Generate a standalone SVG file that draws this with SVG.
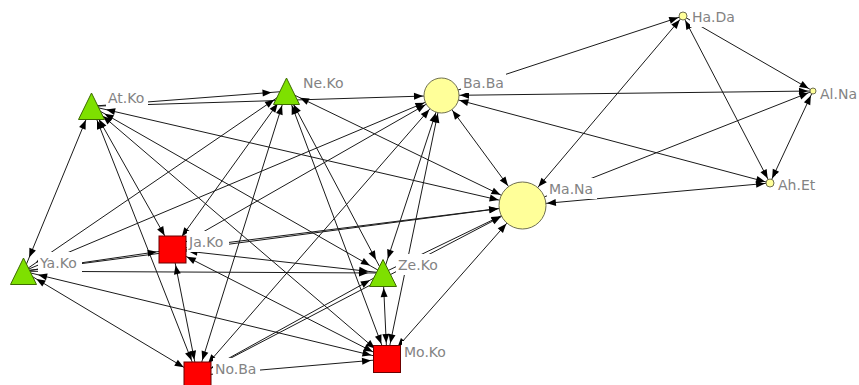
<svg xmlns="http://www.w3.org/2000/svg" width="859" height="385" viewBox="0 0 859 385">
<style>
.e line{stroke:#1a1a1a;stroke-width:1;fill:none}
.lb{fill:#fff}
.tx{font-family:"DejaVu Sans",sans-serif;font-size:14px;fill:#838383}
.tri{fill:#7ee000;stroke:#3d6b00;stroke-width:1}
.sq{fill:#ff0000;stroke:#6b0000;stroke-width:1}
.ci{fill:#ffff99;stroke:#6f6f50;stroke-width:1}
</style>
<defs>
<marker id="T" markerUnits="userSpaceOnUse" markerWidth="10" markerHeight="10" refX="15" refY="0" orient="auto-start-reverse" overflow="visible"><path d="M0,0 L-9,-3.5 L-9,3.5 z" fill="#000"/></marker>
<marker id="Q" markerUnits="userSpaceOnUse" markerWidth="10" markerHeight="10" refX="16" refY="0" orient="auto-start-reverse" overflow="visible"><path d="M0,0 L-9,-3.5 L-9,3.5 z" fill="#000"/></marker>
<marker id="B" markerUnits="userSpaceOnUse" markerWidth="10" markerHeight="10" refX="18.5" refY="0" orient="auto-start-reverse" overflow="visible"><path d="M0,0 L-9,-3.5 L-9,3.5 z" fill="#000"/></marker>
<marker id="M" markerUnits="userSpaceOnUse" markerWidth="10" markerHeight="10" refX="24.5" refY="0" orient="auto-start-reverse" overflow="visible"><path d="M0,0 L-9,-3.5 L-9,3.5 z" fill="#000"/></marker>
<marker id="S" markerUnits="userSpaceOnUse" markerWidth="10" markerHeight="10" refX="5" refY="0" orient="auto-start-reverse" overflow="visible"><path d="M0,0 L-9,-3.5 L-9,3.5 z" fill="#000"/></marker>
</defs>
<rect width="859" height="385" fill="#fff"/>
<g id="connectors" class="e">
<line x1="91.5" y1="106.25" x2="23.5" y2="271.25" marker-start="url(#T)" marker-end="url(#T)"/>
<line x1="91.5" y1="106.25" x2="286.5" y2="91.25" marker-end="url(#T)"/>
<line x1="91.5" y1="106.25" x2="441.5" y2="95.5" marker-end="url(#B)"/>
<line x1="91.5" y1="106.25" x2="522.5" y2="205.5" marker-start="url(#T)" marker-end="url(#M)"/>
<line x1="91.5" y1="106.25" x2="172.5" y2="249.5" marker-start="url(#T)" marker-end="url(#Q)"/>
<line x1="91.5" y1="106.25" x2="197.5" y2="375.5" marker-start="url(#T)" marker-end="url(#Q)"/>
<line x1="91.5" y1="106.25" x2="383" y2="273" marker-start="url(#T)" marker-end="url(#T)"/>
<line x1="91.5" y1="106.25" x2="387" y2="359" marker-start="url(#T)" marker-end="url(#Q)"/>
<line x1="286.5" y1="91.25" x2="23.5" y2="271.25" marker-start="url(#T)" marker-end="url(#T)"/>
<line x1="286.5" y1="91.25" x2="172.5" y2="249.5" marker-start="url(#T)" marker-end="url(#Q)"/>
<line x1="286.5" y1="91.25" x2="197.5" y2="375.5" marker-start="url(#T)" marker-end="url(#Q)"/>
<line x1="286.5" y1="91.25" x2="383" y2="273" marker-start="url(#T)" marker-end="url(#T)"/>
<line x1="286.5" y1="91.25" x2="387" y2="359" marker-start="url(#T)" marker-end="url(#Q)"/>
<line x1="286.5" y1="91.25" x2="522.5" y2="205.5" marker-start="url(#T)" marker-end="url(#M)"/>
<line x1="441.5" y1="95.5" x2="23.5" y2="271.25" marker-start="url(#B)" marker-end="url(#T)"/>
<line x1="172.5" y1="249.5" x2="441.5" y2="95.5" marker-end="url(#B)"/>
<line x1="441.5" y1="95.5" x2="197.5" y2="375.5" marker-start="url(#B)" marker-end="url(#Q)"/>
<line x1="441.5" y1="95.5" x2="383" y2="273" marker-start="url(#B)" marker-end="url(#T)"/>
<line x1="441.5" y1="95.5" x2="387" y2="359" marker-start="url(#B)" marker-end="url(#Q)"/>
<line x1="441.5" y1="95.5" x2="522.5" y2="205.5" marker-start="url(#B)" marker-end="url(#M)"/>
<line x1="441.5" y1="95.5" x2="683" y2="16" marker-end="url(#S)"/>
<line x1="441.5" y1="95.5" x2="813" y2="91" marker-start="url(#B)" marker-end="url(#S)"/>
<line x1="441.5" y1="95.5" x2="770" y2="183" marker-start="url(#B)" marker-end="url(#S)"/>
<line x1="23.5" y1="271.25" x2="522.5" y2="205.5" marker-start="url(#T)" marker-end="url(#M)"/>
<line x1="172.5" y1="249.5" x2="522.5" y2="205.5" marker-start="url(#Q)" marker-end="url(#M)"/>
<line x1="197.5" y1="375.5" x2="522.5" y2="205.5" marker-end="url(#M)"/>
<line x1="383" y1="273" x2="522.5" y2="205.5" marker-start="url(#T)" marker-end="url(#M)"/>
<line x1="387" y1="359" x2="522.5" y2="205.5" marker-start="url(#Q)" marker-end="url(#M)"/>
<line x1="522.5" y1="205.5" x2="683" y2="16" marker-start="url(#M)" marker-end="url(#S)"/>
<line x1="522.5" y1="205.5" x2="813" y2="91" marker-end="url(#S)"/>
<line x1="770" y1="183" x2="522.5" y2="205.5" marker-start="url(#S)" marker-end="url(#M)"/>
<line x1="23.5" y1="271.25" x2="172.5" y2="249.5" marker-start="url(#T)" marker-end="url(#Q)"/>
<line x1="23.5" y1="271.25" x2="197.5" y2="375.5" marker-start="url(#T)" marker-end="url(#Q)"/>
<line x1="23.5" y1="271.25" x2="383" y2="273" marker-end="url(#T)"/>
<line x1="23.5" y1="271.25" x2="387" y2="359" marker-start="url(#T)" marker-end="url(#Q)"/>
<line x1="172.5" y1="249.5" x2="197.5" y2="375.5" marker-start="url(#Q)" marker-end="url(#Q)"/>
<line x1="172.5" y1="249.5" x2="383" y2="273" marker-start="url(#Q)" marker-end="url(#T)"/>
<line x1="172.5" y1="249.5" x2="387" y2="359" marker-start="url(#Q)" marker-end="url(#Q)"/>
<line x1="197.5" y1="375.5" x2="383" y2="273" marker-start="url(#Q)" marker-end="url(#T)"/>
<line x1="197.5" y1="375.5" x2="387" y2="359" marker-end="url(#Q)"/>
<line x1="383" y1="273" x2="387" y2="359" marker-start="url(#T)" marker-end="url(#Q)"/>
<line x1="683" y1="16" x2="813" y2="91" marker-end="url(#S)"/>
<line x1="683" y1="16" x2="770" y2="183" marker-start="url(#S)" marker-end="url(#S)"/>
<line x1="813" y1="91" x2="770" y2="183" marker-start="url(#S)" marker-end="url(#S)"/>
</g>
<g id="node-AtKo"><polygon class="tri" points="91.5,93 78.5,119.5 104.5,119.5"/><rect class="lb" x="106" y="87" width="42" height="21"/><text class="tx" x="108" y="103">At.Ko</text></g>
<g id="node-NeKo"><polygon class="tri" points="286.5,78 273.5,104.5 299.5,104.5"/><rect class="lb" x="301" y="72" width="46" height="21"/><text class="tx" x="303" y="88">Ne.Ko</text></g>
<g id="node-BaBa"><circle class="ci" cx="441.5" cy="95.5" r="17.5"/><rect class="lb" x="461" y="72" width="45" height="21"/><text class="tx" x="463" y="88">Ba.Ba</text></g>
<g id="node-MaNa"><circle class="ci" cx="522.5" cy="205.5" r="23.5"/><rect class="lb" x="547" y="178" width="50" height="21"/><text class="tx" x="549" y="194">Ma.Na</text></g>
<g id="node-HaDa"><circle class="ci" cx="683" cy="16" r="4"/><rect class="lb" x="690" y="6" width="47" height="21"/><text class="tx" x="692" y="22">Ha.Da</text></g>
<g id="node-AlNa"><circle class="ci" cx="813" cy="91" r="3"/><rect class="lb" x="818" y="83" width="41" height="21"/><text class="tx" x="820" y="99">Al.Na</text></g>
<g id="node-AhEt"><circle class="ci" cx="770" cy="183" r="4"/><rect class="lb" x="776" y="174" width="44" height="21"/><text class="tx" x="778" y="190">Ah.Et</text></g>
<g id="node-YaKo"><polygon class="tri" points="23.5,258 10.5,284.5 36.5,284.5"/><rect class="lb" x="38" y="252" width="44" height="21"/><text class="tx" x="40" y="268">Ya.Ko</text></g>
<g id="node-JaKo"><rect class="sq" x="159" y="236" width="27" height="27"/><rect class="lb" x="187" y="231" width="42" height="21"/><text class="tx" x="189" y="247">Ja.Ko</text></g>
<g id="node-NoBa"><rect class="sq" x="184" y="362" width="27" height="27"/><rect class="lb" x="213" y="358" width="47" height="21"/><text class="tx" x="215" y="374">No.Ba</text></g>
<g id="node-ZeKo"><polygon class="tri" points="383,259.5 369.5,286.5 396.5,286.5"/><rect class="lb" x="396" y="254" width="44" height="21"/><text class="tx" x="398" y="270">Ze.Ko</text></g>
<g id="node-MoKo"><rect class="sq" x="373.5" y="345.5" width="27" height="27"/><rect class="lb" x="402" y="341" width="47" height="21"/><text class="tx" x="404" y="357">Mo.Ko</text></g>
</svg>
